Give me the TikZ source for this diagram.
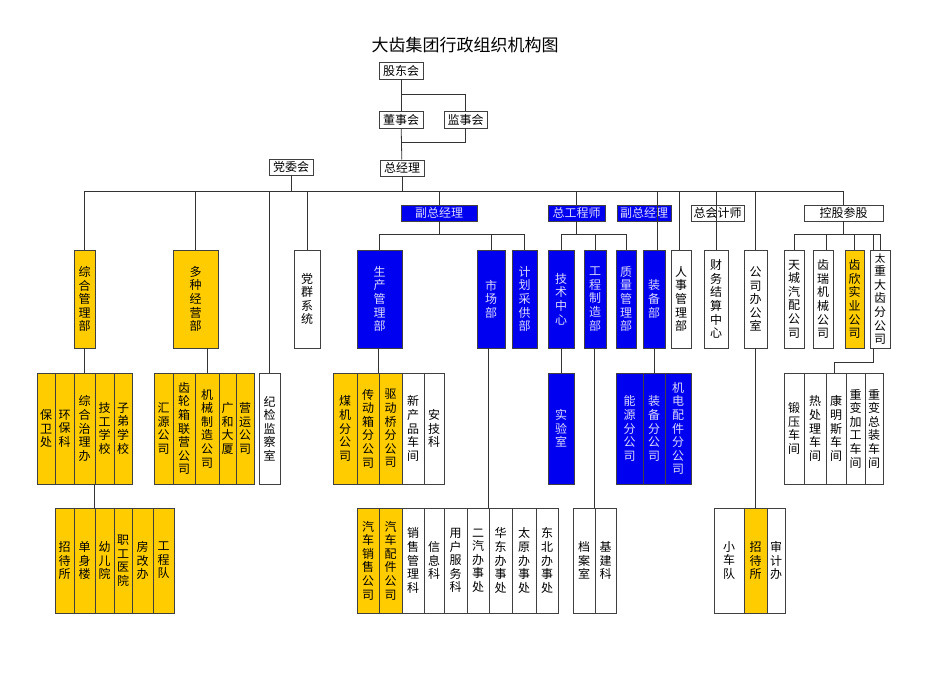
\documentclass[tikz,border=0pt]{standalone}
\usepackage{fontspec}
\setmainfont{Noto Sans CJK SC}
\usetikzlibrary{calc}
\usetikzlibrary{positioning}
\definecolor{orgyellow}{HTML}{FFCC00}
\definecolor{orgblue}{HTML}{0000F0}
\tikzset{
  unit/.style={draw=black!75, line width=0.8pt, inner sep=0pt, align=center,
    font=\fontsize{12}{13.6}\selectfont},
  wunit/.style={unit, fill=white},
  yunit/.style={unit, fill=orgyellow},
  bunit/.style={unit, fill=orgblue, text=blue!15},
  link/.style={draw=black!80, line width=0.8pt}
}
% box from (x1,y1) to (x2,y2) in pixels
\newcommand\bx[7]{\node[#2, minimum width={(#5-#3)*1pt}, minimum height={(#6-#4)*1pt}]
  (#1) at ({(#3+#5)/2},{(#4+#6)/2}) {#7};}
\begin{document}
\begin{tikzpicture}[x=1pt,y=-1pt]
\useasboundingbox (0,0) rectangle (950,672);
\node[font=\fontsize{17}{20}\selectfont] (title) at (465,45) {大齿集团行政组织机构图};

% top
\bx{gdh}{wunit}{379}{62}{423}{79}{股东会}
\bx{dsh}{wunit}{379}{111}{423}{128}{董事会}
\bx{jsh}{wunit}{444}{111}{487}{128}{监事会}
\bx{zjl}{wunit}{380}{160}{424}{176}{总经理}
\bx{dwh}{wunit}{269}{159}{313}{175}{党委会}
\coordinate (bus) at (0,191);
\draw[link] (gdh) -- (dsh);
\draw[link] (dsh) -- (zjl);
\draw[link] ($(gdh.south)+(0,15)$) -| (jsh.north);
\draw[link] (jsh.south) |- ($(zjl.north)+(0,-17)$);

% second level
\bx{fzjl}{bunit}{401}{205}{477}{221}{副总经理}
\bx{zgcs}{bunit}{548}{205}{605}{221}{总工程师}
\bx{fzjlb}{bunit}{617}{205}{671}{221}{副总经理}
\bx{zkjs}{wunit}{691}{205}{744}{221}{总会计师}
\bx{kgcg}{wunit}{804}{205}{883}{221}{控股参股}

\bx{zhglb}{yunit}{74}{250}{95}{348}{综\\合\\管\\理\\部}
\bx{dzjy}{yunit}{173}{250}{218}{348}{多\\种\\经\\营\\部}
\bx{dqxt}{wunit}{294}{250}{320}{348}{党\\群\\系\\统}
\bx{scglb}{bunit}{357}{250}{402}{348}{生\\产\\管\\理\\部}
\bx{scb}{bunit}{477}{250}{505}{348}{市\\场\\部}
\bx{jhcg}{bunit}{512}{250}{537}{348}{计\\划\\采\\供\\部}
\bx{jszx}{bunit}{548}{250}{574}{348}{技\\术\\中\\心}
\bx{gczz}{bunit}{584}{250}{606}{348}{工\\程\\制\\造\\部}
\bx{zlgl}{bunit}{616}{250}{636}{348}{质\\量\\管\\理\\部}
\bx{zbb}{bunit}{643}{250}{665}{348}{装\\备\\部}
\bx{rsgl}{wunit}{671}{250}{691}{348}{人\\事\\管\\理\\部}
\bx{cwjs}{wunit}{704}{250}{728}{348}{财\\务\\结\\算\\中\\心}
\bx{gsbgs}{wunit}{744}{250}{767}{348}{公\\司\\办\\公\\室}
\bx{tcqp}{wunit}{784}{250}{804}{348}{天\\城\\汽\\配\\公\\司}
\bx{crjx}{wunit}{813}{250}{833}{348}{齿\\瑞\\机\\械\\公\\司}
\bx{cxsy}{yunit}{845}{250}{864}{348}{齿\\欣\\实\\业\\公\\司}
\bx{tzdc}{wunit}{870}{250}{890}{348}{\fontsize{10.5}{12}\selectfont 太\\重\\大\\齿\\分\\公\\司}

% third row
\bx{bwc}{yunit}{37}{373}{55}{484}{保\\卫\\处}
\bx{hbk}{yunit}{55}{373}{74}{484}{环\\保\\科}
\bx{zhzl}{yunit}{74}{373}{95}{484}{综\\合\\治\\理\\办}
\bx{jgxx}{yunit}{95}{373}{114}{484}{技\\工\\学\\校}
\bx{zdxx}{yunit}{114}{373}{132}{484}{子\\弟\\学\\校}
\bx{hygs}{yunit}{154}{373}{173}{484}{汇\\源\\公\\司}
\bx{clx}{yunit}{173}{373}{195}{484}{齿\\轮\\箱\\联\\营\\公\\司}
\bx{jxzz}{yunit}{195}{373}{219}{484}{机\\械\\制\\造\\公\\司}
\bx{ghds}{yunit}{219}{373}{236}{484}{广\\和\\大\\厦}
\bx{yygs}{yunit}{236}{373}{254}{484}{营\\运\\公\\司}
\bx{jjjc}{wunit}{259}{373}{280}{484}{纪\\检\\监\\察\\室}
\bx{mjfg}{yunit}{333}{373}{357}{484}{煤\\机\\分\\公\\司}
\bx{cdx}{yunit}{357}{373}{379}{484}{传\\动\\箱\\分\\公\\司}
\bx{qdq}{yunit}{379}{373}{402}{484}{驱\\动\\桥\\分\\公\\司}
\bx{xcp}{wunit}{402}{373}{424}{484}{新\\产\\品\\车\\间}
\bx{ajk}{wunit}{424}{373}{444}{484}{安\\技\\科}
\bx{sys}{bunit}{548}{373}{574}{484}{实\\验\\室}
\bx{nyfg}{bunit}{616}{373}{643}{484}{能\\源\\分\\公\\司}
\bx{zbfg}{bunit}{643}{373}{665}{484}{装\\备\\分\\公\\司}
\bx{jdpj}{bunit}{665}{373}{691}{484}{机\\电\\配\\件\\分\\公\\司}
\bx{dycj}{wunit}{784}{373}{804}{484}{锻\\压\\车\\间}
\bx{rclcj}{wunit}{804}{373}{826}{484}{热\\处\\理\\车\\间}
\bx{kmscj}{wunit}{826}{373}{846}{484}{康\\明\\斯\\车\\间}
\bx{zbjg}{wunit}{846}{373}{865}{484}{重\\变\\加\\工\\车\\间}
\bx{zbzz}{wunit}{865}{373}{883}{484}{重\\变\\总\\装\\车\\间}

% bottom row
\bx{zds}{yunit}{55}{508}{74}{613}{招\\待\\所}
\bx{dsl}{yunit}{74}{508}{95}{613}{单\\身\\楼}
\bx{yey}{yunit}{95}{508}{114}{613}{幼\\儿\\院}
\bx{zgyy}{yunit}{114}{508}{132}{613}{职\\工\\医\\院}
\bx{fgb}{yunit}{132}{508}{153}{613}{房\\改\\办}
\bx{gcd}{yunit}{153}{508}{174}{613}{工\\程\\队}
\bx{qcxs}{yunit}{357}{508}{379}{613}{汽\\车\\销\\售\\公\\司}
\bx{qcpj}{yunit}{379}{508}{402}{613}{汽\\车\\配\\件\\公\\司}
\bx{xsgl}{wunit}{402}{508}{424}{613}{销\\售\\管\\理\\科}
\bx{xxk}{wunit}{424}{508}{444}{613}{信\\息\\科}
\bx{yhfw}{wunit}{444}{508}{467}{613}{用\\户\\服\\务\\科}
\bx{eqbs}{wunit}{467}{508}{489}{613}{二\\汽\\办\\事\\处}
\bx{hdbs}{wunit}{489}{508}{512}{613}{华\\东\\办\\事\\处}
\bx{tybs}{wunit}{512}{508}{536}{613}{太\\原\\办\\事\\处}
\bx{dbbs}{wunit}{536}{508}{558}{613}{东\\北\\办\\事\\处}
\bx{das}{wunit}{573}{508}{595}{613}{档\\案\\室}
\bx{jjk}{wunit}{595}{508}{616}{613}{基\\建\\科}
\bx{xcd}{wunit}{714}{508}{744}{613}{小\\车\\队}
\bx{zdsb}{yunit}{744}{508}{767}{613}{招\\待\\所}
\bx{sjb}{wunit}{767}{508}{785}{613}{审\\计\\办}

% main bus and drops
\begin{scope}[on background layer/.try]
\draw[link] (zhglb.north |- bus) -- (kgcg.north |- bus);
\draw[link] (dwh) -- (dwh |- bus);
\draw[link] (zjl) -- (zjl |- bus);
\draw[link] (zhglb) -- (zhglb |- bus);
\draw[link] (dzjy.north) -- (dzjy.north |- bus);
\draw[link] (jjjc.north) -- (jjjc.north |- bus);
\draw[link] (dqxt.north) -- (dqxt.north |- bus);
\draw[link] (fzjl.north) -- (fzjl.north |- bus);
\draw[link] (zgcs.north) -- (zgcs.north |- bus);
\draw[link] ($(zbb.north)+(3,0)$) -- ($(zbb.north |- bus)+(3,0)$);
\draw[link] ($(rsgl.north)+(-2,0)$) -- ($(rsgl.north |- bus)+(-2,0)$);
\draw[link] (cwjs.north) -- (cwjs.north |- bus);
\draw[link] (gsbgs.north) -- (gsbgs.north |- bus);
\draw[link] (kgcg.north) -- (kgcg.north |- bus);
\draw[link] (gsbgs) -- (zdsb);

% sub buses
\coordinate (sub) at (0,234);
\draw[link] (fzjl.south) -- (fzjl.south |- sub);
\draw[link] (scglb.north) |- (jhcg.north |- sub) -- (jhcg.north);
\draw[link] (scb.north) -- (scb.north |- sub);
\draw[link] (zgcs.south) -- (zgcs.south |- sub);
\draw[link] (jszx.north) |- (zlgl.north |- sub) -- (zlgl.north);
\draw[link] (gczz.north) -- (gczz.north |- sub);
\draw[link] (kgcg.south) -- (kgcg.south |- sub);
\draw[link] (tcqp.north) |- (tzdc.north |- sub) -- (tzdc.north);
\draw[link] ($(crjx.north)+(3,0)$) -- ($(crjx.north |- sub)+(3,0)$);
\draw[link] (cxsy.north) -- (cxsy.north |- sub);
\draw[link] ($(tzdc.north)+(-7,0)$) -- ($(tzdc.north |- sub)+(-7,0)$);

% lower drops
\draw[link] (zhglb) -- (zhzl);
\draw[link] (yey.north west) -- (yey.north west |- zhzl.south);
\draw[link] (jxzz.north) -- (jxzz.north |- dzjy.south);
\draw[link] (qdq.north west) -- (qdq.north west |- scglb.south);
\draw[link] (hdbs.north west) -- (hdbs.north west |- scb.south);
\draw[link] (jszx) -- (sys);
\draw[link] (jjk.north west) -- (jjk.north west |- gczz.south);
\draw[link] (zbb.south) -- (zbb.south |- zbfg.north);
\coordinate (tzturn) at ($(tzdc.south)+(-7,14)$);
\draw[link] ($(tzdc.south)+(-7,0)$) -- (tzturn) -| ($(kmscj.north)+(-2,0)$);
\end{scope}
\end{tikzpicture}
\end{document}
